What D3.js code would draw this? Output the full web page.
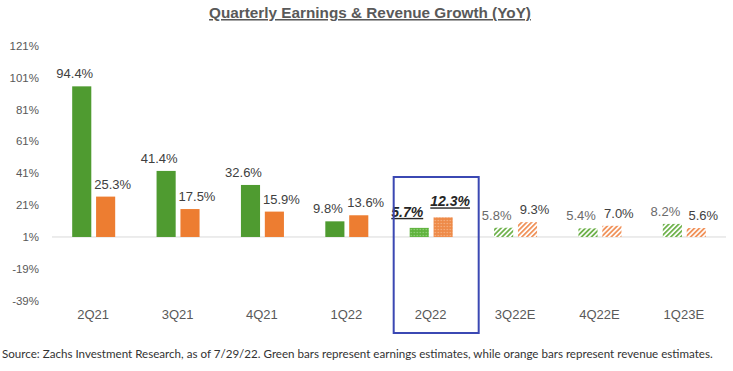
<!DOCTYPE html>
<html>
<head>
<meta charset="utf-8">
<script src="https://cdn.jsdelivr.net/npm/d3@7"></script>
<style>
  body { margin: 0; background: #fff; }
  svg { display: block; }
</style>
</head>
<body>
<svg></svg>
<script>
const quarters = ['2Q21', '3Q21', '4Q21', '1Q22', '2Q22', '3Q22E', '4Q22E', '1Q23E']
const earnings = [94.4, 41.4, 32.6, 9.8, 5.7, 5.8, 5.4, 8.2]
const revenue = [25.3, 17.5, 15.9, 13.6, 12.3, 9.3, 7.0, 5.6]
// 'a' = actual, 'c' = current quarter, 'e' = estimate
const kinds = ['a', 'a', 'a', 'a', 'c', 'e', 'e', 'e']
const yTicks = [-39, -19, 1, 21, 41, 61, 81, 101, 121]

const width = 733
const height = 371
const green = '#4f9b30'
const orange = '#ed7d31'

const svg = d3.select('svg')
              .attr('width', width)
              .attr('height', height)
              .style('font-family', '"Liberation Sans", Arial, sans-serif')

const xScale = d3.scaleBand()
                 .domain(quarters)
                 .range([51, 726])

const sub = d3.scaleBand()
              .domain(['earnings', 'revenue'])
              .range([-21, 22])
              .paddingInner(0.2)

const yScale = d3.scaleLinear()
                 .domain([-39, 121])
                 .range([300.8, 45.5])

// patterns
const defs = svg.append('defs')
const hatch = (id, color) => {
  const p = defs.append('pattern')
                .attr('id', id)
                .attr('patternUnits', 'userSpaceOnUse')
                .attr('width', 3.5)
                .attr('height', 3.5)
                .attr('patternTransform', 'rotate(45)')
  p.append('rect').attr('width', 3.5).attr('height', 3.5).attr('fill', '#fff')
  p.append('rect').attr('width', 1.8).attr('height', 3.5).attr('fill', color)
}
hatch('hatch-green', '#6fb24c')
hatch('hatch-orange', '#f0925a')

const dots = (id, color, dot) => {
  const p = defs.append('pattern')
                .attr('id', id)
                .attr('patternUnits', 'userSpaceOnUse')
                .attr('width', 3)
                .attr('height', 3)
  p.append('rect').attr('width', 3).attr('height', 3).attr('fill', color)
  p.append('circle').attr('cx', 1.5).attr('cy', 1.5).attr('r', 0.7).attr('fill', dot)
}
dots('dots-green', '#5fb33d', '#9fd68a')
dots('dots-orange', '#ee8a48', '#f6b98e')

const fillFor = (kind, series) => {
  if (kind === 'a') return series === 'earnings' ? green : orange
  if (kind === 'c') return series === 'earnings' ? 'url(#dots-green)' : 'url(#dots-orange)'
  return series === 'earnings' ? 'url(#hatch-green)' : 'url(#hatch-orange)'
}

// title
svg.append('text')
   .text('Quarterly Earnings & Revenue Growth (YoY)')
   .attr('x', 370)
   .attr('y', 18)
   .attr('text-anchor', 'middle')
   .attr('font-size', 15.3)
   .attr('font-weight', 'bold')
   .attr('fill', '#595959')
   .style('text-decoration', 'underline')

// y axis labels
const yAxis = d3.axisLeft(yScale)
                .tickValues(yTicks)
                .tickFormat(d => d + '%')
                .tickSize(0)
                .tickPadding(0)

svg.append('g')
   .attr('transform', 'translate(39, 0)')
   .call(yAxis)
   .call(g => g.select('.domain').remove())
   .call(g => g.selectAll('text')
               .attr('font-size', 11.5)
               .attr('font-family', '"Liberation Sans", Arial, sans-serif')
               .attr('fill', '#595959'))

// baseline
svg.append('line')
   .attr('x1', 52)
   .attr('x2', 726)
   .attr('y1', yScale(1))
   .attr('y2', yScale(1))
   .attr('stroke', '#d9d9d9')
   .attr('stroke-width', 1)

const rows = quarters.map((q, i) => ({ q, kind: kinds[i], earnings: earnings[i], revenue: revenue[i] }))
const groups = svg.append('g')
                  .selectAll('g')
                  .data(rows)
                  .join('g')
                  .attr('transform', d => `translate(${xScale(d.q) + xScale.bandwidth() / 2}, 0)`)

const series = ['earnings', 'revenue']
groups.selectAll('rect')
      .data(d => series.map(s => ({ s, v: d[s], kind: d.kind })))
      .join('rect')
      .attr('x', d => sub(d.s))
      .attr('y', d => yScale(d.v + 1))
      .attr('width', sub.bandwidth())
      .attr('height', d => yScale(1) - yScale(d.v + 1))
      .attr('fill', d => fillFor(d.kind, d.s))

groups.selectAll('text.value')
      .data(d => series.map(s => ({ s, v: d[s], kind: d.kind })))
      .join('text')
      .attr('class', 'value')
      .text(d => d.v.toFixed(1) + '%')
      .attr('x', d => sub(d.s) + sub.bandwidth() / 2 + (d.s === 'earnings' ? (d.kind === 'c' ? -12 : -7) : 7))
      .attr('y', d => yScale(d.v + 1) - (d.kind === 'c' ? 11 : 8))
      .attr('text-anchor', 'middle')
      .attr('font-size', d => d.kind === 'c' ? 14 : 13)
      .attr('fill', d => d.kind === 'c' ? '#262626' : (d.kind === 'e' && d.s === 'earnings' ? '#6a6a6a' : '#404040'))
      .attr('font-weight', d => d.kind === 'c' ? 'bold' : 'normal')
      .attr('font-style', d => d.kind === 'c' ? 'italic' : 'normal')
      .style('text-decoration', d => d.kind === 'c' ? 'underline' : 'none')

// category labels
const xAxis = d3.axisBottom(xScale).tickSize(0).tickPadding(0)
svg.append('g')
   .attr('transform', 'translate(0, 310)')
   .call(xAxis)
   .call(g => g.select('.domain').remove())
   .call(g => g.selectAll('text')
               .attr('font-size', 13)
               .attr('font-family', '"Liberation Sans", Arial, sans-serif')
               .attr('fill', '#595959'))

// highlight box around current quarter
const cur = quarters[kinds.indexOf('c')]
svg.append('rect')
   .attr('x', xScale(cur) + xScale.bandwidth() / 2 - 37)
   .attr('y', 177)
   .attr('width', 85)
   .attr('height', 156)
   .attr('fill', 'none')
   .attr('stroke', '#3b48b3')
   .attr('stroke-width', 2)

// source note
svg.append('text')
   .text('Source: Zachs Investment Research, as of 7/29/22. Green bars represent earnings estimates, while orange bars represent revenue estimates.')
   .attr('x', 2)
   .attr('y', 358)
   .attr('font-size', 11.6)
   .attr('font-family', 'Lato, "Open Sans", sans-serif')
   .attr('fill', '#333')
</script>
</body>
</html>
